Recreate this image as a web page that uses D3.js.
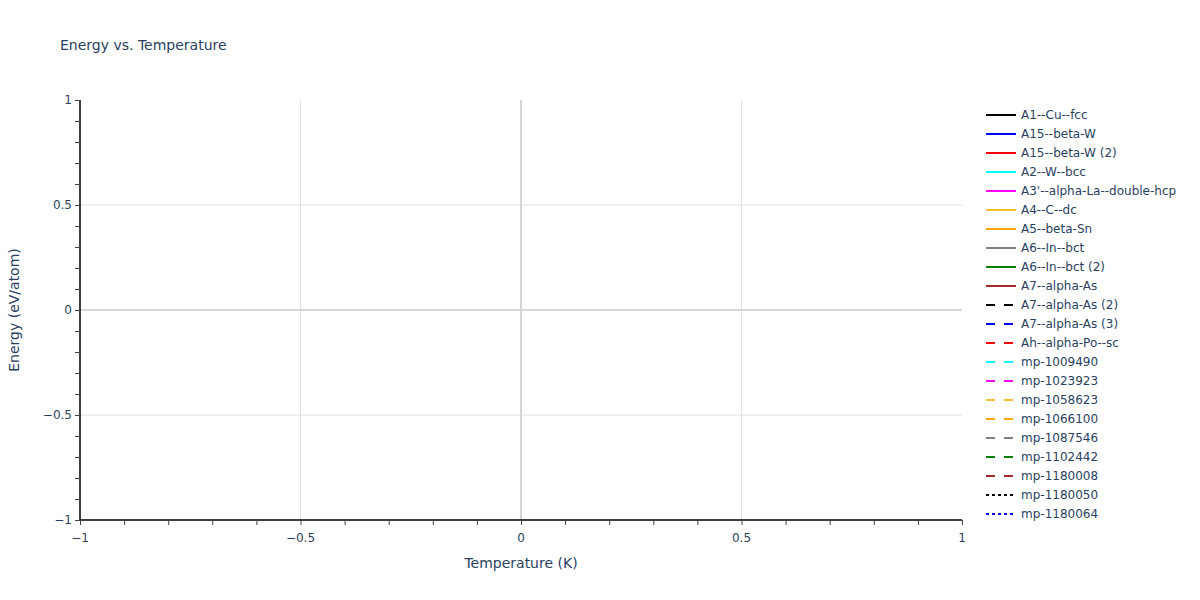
<!DOCTYPE html>
<html>
<head>
<meta charset="utf-8">
<script src="https://cdn.jsdelivr.net/npm/d3@7"></script>
<style>
  body { margin: 0; background: #fff; }
  svg text { font-family: "DejaVu Sans", Verdana, sans-serif; fill: #2a3f5f; }
</style>
</head>
<body>
<svg id="chart" width="1200" height="600"></svg>
<script>
// legend entries (no data points in this chart)
const seriesNames = [
  "A1--Cu--fcc", "A15--beta-W", "A15--beta-W (2)", "A2--W--bcc",
  "A3'--alpha-La--double-hcp", "A4--C--dc", "A5--beta-Sn", "A6--In--bct",
  "A6--In--bct (2)", "A7--alpha-As", "A7--alpha-As (2)", "A7--alpha-As (3)",
  "Ah--alpha-Po--sc", "mp-1009490", "mp-1023923", "mp-1058623", "mp-1066100",
  "mp-1087546", "mp-1102442", "mp-1180008", "mp-1180050", "mp-1180064"
];
const seriesColors = [
  "#000000", "#0000ff", "#ff0000", "#00ffff", "#ff00ff", "#f0c030", "#ffa500",
  "#808080", "#008000", "#a52a2a",
  "#000000", "#0000ff", "#ff0000", "#00ffff", "#ff00ff", "#f0c030", "#ffa500",
  "#808080", "#008000", "#a52a2a",
  "#000000", "#0000ff"
];
const seriesDash = [
  "solid", "solid", "solid", "solid", "solid", "solid", "solid", "solid", "solid", "solid",
  "dash", "dash", "dash", "dash", "dash", "dash", "dash", "dash", "dash", "dash",
  "dot", "dot"
];
const xDomain = [-1, 1];
const yDomain = [-1, 1];
const majorTicks = [-1, -0.5, 0, 0.5, 1];

const svg = d3.select("#chart");
const margin = {left: 80, right: 238, top: 100, bottom: 80};
const W = 1200, H = 600;

const x = d3.scaleLinear().domain(xDomain).range([margin.left, W - margin.right]);
const y = d3.scaleLinear().domain(yDomain).range([H - margin.bottom, margin.top]);

const fmt = d => d3.format("")(d).replace("-", "\u2212");

// grid
const grid = svg.append("g");
grid.selectAll(".gx").data(majorTicks.filter(d => d !== 0 && d !== xDomain[0] && d !== xDomain[1]))
  .enter().append("line")
  .attr("x1", d => x(d)).attr("x2", d => x(d))
  .attr("y1", y(yDomain[0])).attr("y2", y(yDomain[1]))
  .attr("stroke", "#e1e1e1").attr("stroke-width", 1);
grid.selectAll(".gy").data(majorTicks.filter(d => d !== 0 && d !== yDomain[0] && d !== yDomain[1]))
  .enter().append("line")
  .attr("x1", x(xDomain[0])).attr("x2", x(xDomain[1]))
  .attr("y1", d => y(d)).attr("y2", d => y(d))
  .attr("stroke", "#e1e1e1").attr("stroke-width", 1);

// zero lines
svg.append("line")
  .attr("x1", x(0)).attr("x2", x(0)).attr("y1", y(yDomain[0])).attr("y2", y(yDomain[1]))
  .attr("stroke", "#d6d6d6").attr("stroke-width", 2);
svg.append("line")
  .attr("x1", x(xDomain[0])).attr("x2", x(xDomain[1])).attr("y1", y(0)).attr("y2", y(0))
  .attr("stroke", "#d6d6d6").attr("stroke-width", 2);

// axes
const minorTicks = d3.range(-10, 11).map(d => d / 10);

const xAxis = svg.append("g").attr("transform", `translate(0,${y(yDomain[0])})`);
xAxis.call(d3.axisBottom(x).tickValues(minorTicks).tickSize(5).tickFormat(""));
xAxis.call(g => g.selectAll(".tick line").attr("stroke", "#444"));
xAxis.call(g => g.select(".domain").attr("stroke", "#000").attr("stroke-width", 1.5).attr("d", `M${x(xDomain[0])},0H${x(xDomain[1])}`));
xAxis.selectAll(".lbl").data(majorTicks).enter().append("text")
  .attr("x", d => x(d)).attr("y", 22)
  .attr("text-anchor", "middle").attr("font-size", 12)
  .text(fmt);

const yAxis = svg.append("g").attr("transform", `translate(${x(xDomain[0])},0)`);
yAxis.call(d3.axisLeft(y).tickValues(minorTicks).tickSize(5).tickFormat(""));
yAxis.call(g => g.selectAll(".tick line").attr("stroke", "#444"));
yAxis.call(g => g.select(".domain").attr("stroke", "#000").attr("stroke-width", 1.5).attr("d", `M0,${y(yDomain[0])}V${y(yDomain[1])}`));
yAxis.selectAll(".lbl").data(majorTicks).enter().append("text")
  .attr("x", -8).attr("y", d => y(d)).attr("dy", "0.35em")
  .attr("text-anchor", "end").attr("font-size", 12)
  .text(fmt);

// titles
svg.append("text").attr("x", 60).attr("y", 50).attr("font-size", 14).text("Energy vs. Temperature");
svg.append("text").attr("x", x(0)).attr("y", 568).attr("text-anchor", "middle")
  .attr("font-size", 14).text("Temperature (K)");
svg.append("text").attr("transform", `translate(19,${y(0)}) rotate(-90)`)
  .attr("text-anchor", "middle").attr("font-size", 14).text("Energy (eV/atom)");

// legend
const dashMap = {solid: null, dash: "9,9", dot: "3,3"};
const legend = svg.append("g").attr("transform", "translate(986,115)");
const item = legend.selectAll("g").data(seriesNames).enter().append("g")
  .attr("transform", (d, i) => `translate(0,${i * 19})`);
item.append("line")
  .attr("x1", 0).attr("x2", 30).attr("y1", 0).attr("y2", 0)
  .attr("stroke", (d, i) => seriesColors[i]).attr("stroke-width", 2)
  .attr("stroke-dasharray", (d, i) => dashMap[seriesDash[i]]);
item.append("text").attr("x", 35).attr("dy", "0.35em").attr("font-size", 12).text(d => d);
</script>
</body>
</html>
